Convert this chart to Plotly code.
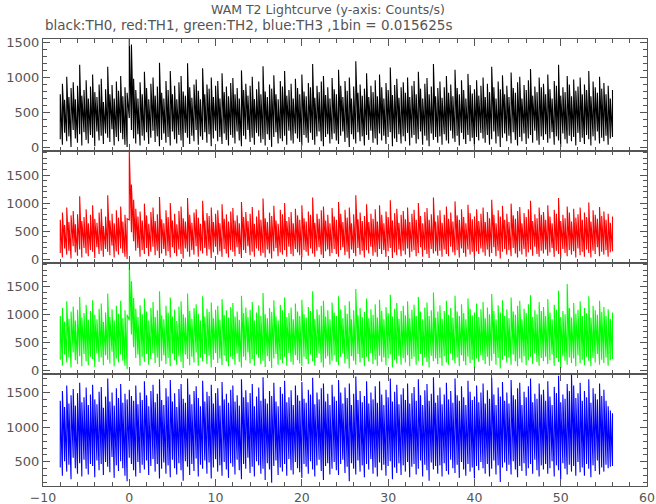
import numpy as np
import plotly.graph_objects as go
from plotly.subplots import make_subplots

# time axis: first bin start and display bin width (s); each bin holds the min and max count rate
t_start = -8.0
bin_width = 0.25

th0_hi = [760, 910, 680, 1010, 720, 850, 930, 690, 880, 1180, 740, 820, 960, 700, 870, 1040,
          790, 720, 900, 980, 650, 830, 1150, 760, 890, 700, 940, 810, 1020, 730, 860, 780,
          1560, 1470, 980, 820, 700, 930, 760, 1080, 850, 690, 910, 1000, 740, 870, 1210, 780,
          700, 950, 820, 1090, 760, 880, 690, 930, 1020, 800, 740, 1200, 860, 710, 900, 970,
          810, 690, 1130, 760, 900, 840, 1000, 720, 880, 950, 700, 1060, 790, 870, 730, 920,
          990, 760, 850, 700, 1100, 820, 910, 740, 880, 1010, 690, 830, 940, 760, 1160, 800,
          720, 900, 840, 1030, 760, 690, 950, 870, 1090, 740, 820, 910, 700, 980, 850, 760,
          1040, 800, 730, 920, 860, 1190, 710, 880, 790, 940, 1020, 750, 860, 700, 990, 830,
          760, 1110, 880, 720, 950, 810, 1000, 700, 870, 1230, 780, 900, 740, 840, 1060, 720,
          880, 790, 960, 730, 1040, 860, 700, 920, 820, 1140, 750, 890, 980, 710, 860, 930,
          780, 1000, 720, 880, 950, 760, 1080, 840, 700, 910, 990, 760, 870, 1190, 730, 850,
          940, 710, 860, 1020, 780, 900, 730, 1110, 850, 760, 960, 820, 700, 1050, 890, 770,
          830, 960, 740, 880, 1000, 720, 910, 790, 1150, 860, 700, 940, 830, 1030, 760, 880,
          720, 1070, 850, 780, 930, 1010, 700, 890, 820, 960, 1120, 740, 870, 790, 1000, 860,
          910, 760, 1040, 830, 700, 950, 880, 1180, 740, 860, 790, 1020, 900, 730, 970, 810,
          870, 1000, 760, 900, 820, 1090, 730, 940, 860, 780, 1010, 840, 920, 760, 880, 700,
          820]
th0_lo = [120, 40, 210, 90, 160, 10, 250, 130, 70, 190, 30, 220, 110, 60, 180, 140,
          20, 230, 100, 170, 50, 200, 140, 80, 260, 30, 150, 90, 210, 120, 40, 10,
          420, 250, 130, 60, 190, 30, 170, 100, 220, 50, 140, 240, 80, 160, 20, 110,
          200, 70, 150, 30, 230, 120, 60, 180, 100, 10, 210, 140, 50, 170, 90, 250,
          40, 160, 110, 220, 70, 190, 20, 130, 240, 90, 150, 50, 200, 110, 30, 180,
          140, 60, 230, 100, 20, 170, 120, 250, 80, 140, 40, 210, 160, 70, 120, 30,
          190, 110, 10, 150, 220, 60, 130, 90, 170, 40, 240, 100, 60, 200, 130, 80,
          30, 180, 140, 70, 210, 110, 40, 160, 230, 90, 20, 150, 190, 60, 120, 200,
          100, 50, 170, 230, 80, 140, 10, 190, 120, 60, 220, 90, 160, 30, 180, 110,
          240, 70, 130, 40, 200, 100, 170, 50, 150, 220, 20, 130, 80, 190, 60, 160,
          90, 210, 30, 140, 180, 60, 120, 230, 40, 170, 100, 20, 200, 110, 150, 70,
          160, 40, 190, 100, 60, 240, 130, 80, 170, 30, 210, 120, 50, 180, 90, 140,
          20, 150, 100, 210, 130, 70, 180, 40, 120, 230, 60, 160, 10, 140, 200, 90,
          170, 60, 220, 110, 30, 150, 90, 200, 50, 130, 180, 70, 240, 100, 40, 160,
          110, 190, 70, 130, 220, 40, 160, 100, 10, 200, 120, 60, 170, 90, 150, 30,
          210, 80, 140, 50, 180, 120, 30, 160, 100, 230, 60, 140, 90, 170, 40, 130,
          150]

th1_hi = [700, 830, 610, 920, 660, 780, 860, 620, 800, 1120, 680, 750, 890, 640, 790, 960,
          720, 650, 830, 900, 590, 760, 1140, 690, 810, 640, 870, 740, 940, 670, 790, 720,
          1960, 1330, 1060, 900, 760, 850, 690, 990, 780, 630, 840, 920, 680, 800, 1110, 710,
          640, 870, 750, 1000, 690, 810, 620, 860, 940, 730, 670, 1090, 790, 650, 830, 890,
          740, 630, 1040, 690, 820, 770, 920, 660, 810, 870, 640, 980, 720, 800, 670, 850,
          910, 690, 780, 640, 1020, 750, 840, 680, 810, 930, 630, 760, 870, 700, 1080, 730,
          660, 830, 770, 950, 690, 630, 880, 800, 1000, 680, 750, 840, 640, 900, 780, 700,
          960, 730, 670, 850, 790, 1100, 650, 810, 720, 870, 940, 690, 790, 640, 910, 760,
          700, 1020, 810, 660, 880, 740, 920, 640, 800, 1140, 710, 830, 680, 770, 980, 660,
          810, 720, 890, 670, 960, 790, 640, 850, 750, 1050, 690, 820, 900, 650, 790, 860,
          710, 920, 660, 810, 880, 700, 1000, 770, 640, 840, 910, 700, 800, 1100, 670, 780,
          870, 650, 790, 940, 720, 830, 670, 1030, 780, 700, 890, 750, 640, 970, 820, 710,
          760, 890, 680, 810, 920, 660, 840, 730, 1060, 790, 640, 870, 760, 950, 700, 810,
          660, 990, 780, 720, 860, 930, 640, 820, 750, 890, 1040, 680, 800, 730, 920, 790,
          840, 700, 960, 760, 640, 880, 810, 1090, 680, 790, 730, 940, 830, 670, 900, 740,
          800, 920, 700, 830, 750, 1010, 670, 870, 790, 720, 930, 770, 850, 700, 810, 650,
          760]
th1_lo = [110, 30, 190, 80, 150, 10, 230, 120, 60, 170, 30, 200, 100, 50, 160, 130,
          20, 210, 90, 150, 40, 180, 130, 70, 240, 30, 140, 80, 190, 110, 40, 0,
          700, 480, 320, 150, 200, 40, 160, 90, 200, 50, 130, 220, 70, 150, 20, 100,
          180, 60, 140, 30, 210, 110, 50, 170, 90, 10, 190, 130, 40, 160, 80, 230,
          40, 150, 100, 200, 60, 170, 20, 120, 220, 80, 140, 40, 180, 100, 30, 160,
          130, 50, 210, 90, 20, 160, 110, 230, 70, 130, 40, 190, 150, 60, 110, 30,
          170, 100, 10, 140, 200, 50, 120, 80, 160, 40, 220, 90, 50, 180, 120, 70,
          30, 160, 130, 60, 190, 100, 40, 150, 210, 80, 20, 140, 170, 50, 110, 180,
          90, 40, 160, 210, 70, 130, 10, 170, 110, 50, 200, 80, 150, 30, 160, 100,
          220, 60, 120, 40, 180, 90, 160, 40, 140, 200, 20, 120, 70, 170, 50, 150,
          80, 190, 30, 130, 160, 50, 110, 210, 40, 160, 90, 20, 180, 100, 140, 60,
          150, 40, 170, 90, 50, 220, 120, 70, 160, 30, 190, 110, 40, 170, 80, 130,
          20, 140, 90, 190, 120, 60, 170, 40, 110, 210, 50, 150, 10, 130, 180, 80,
          160, 50, 200, 100, 30, 140, 80, 180, 40, 120, 170, 60, 220, 90, 40, 150,
          100, 170, 60, 120, 200, 40, 150, 90, 10, 180, 110, 50, 160, 80, 140, 30,
          190, 70, 130, 40, 170, 110, 30, 150, 90, 210, 50, 130, 80, 160, 40, 120,
          140]

th2_hi = [980, 1120, 880, 1240, 930, 1060, 1150, 900, 1090, 1320, 950, 1030, 1180, 910, 1070, 1260,
          1000, 920, 1110, 1200, 870, 1040, 1380, 960, 1100, 900, 1160, 1020, 1250, 940, 1080, 1000,
          1930, 1600, 1300, 1110, 960, 1170, 1010, 1290, 1060, 900, 1120, 1230, 960, 1080, 1420, 990,
          920, 1160, 1040, 1310, 970, 1090, 890, 1150, 1240, 1010, 950, 1380, 1070, 930, 1120, 1190,
          1020, 900, 1330, 970, 1110, 1050, 1220, 940, 1090, 1160, 910, 1280, 1000, 1080, 950, 1140,
          1210, 970, 1060, 910, 1340, 1030, 1130, 960, 1090, 1230, 900, 1040, 1170, 980, 1390, 1010,
          940, 1120, 1050, 1260, 970, 900, 1180, 1080, 1310, 960, 1030, 1130, 920, 1200, 1060, 980,
          1270, 1010, 950, 1140, 1070, 1420, 930, 1100, 1000, 1160, 1250, 970, 1080, 920, 1220, 1040,
          980, 1330, 1100, 940, 1170, 1020, 1240, 920, 1080, 1460, 990, 1120, 960, 1050, 1290, 940,
          1100, 1000, 1190, 950, 1270, 1070, 920, 1140, 1030, 1360, 970, 1110, 1210, 930, 1070, 1160,
          990, 1240, 940, 1090, 1180, 980, 1320, 1060, 920, 1130, 1220, 980, 1080, 1400, 950, 1060,
          1170, 930, 1070, 1250, 1000, 1120, 950, 1340, 1060, 980, 1190, 1030, 920, 1290, 1110, 990,
          1040, 1200, 960, 1100, 1230, 940, 1130, 1010, 1370, 1070, 920, 1170, 1040, 1260, 980, 1100,
          940, 1310, 1060, 1000, 1160, 1250, 920, 1110, 1030, 1190, 1350, 960, 1080, 1010, 1230, 1070,
          1140, 980, 1280, 1040, 920, 1180, 1090, 1430, 960, 1070, 1010, 1550, 1120, 950, 1210, 1020,
          1090, 1240, 980, 1120, 1030, 1330, 950, 1160, 1080, 1000, 1250, 1050, 1140, 980, 1100, 930,
          1040]
th2_lo = [200, 90, 290, 150, 240, 60, 330, 190, 120, 260, 80, 300, 170, 100, 250, 210,
          70, 310, 160, 240, 100, 280, 200, 130, 340, 80, 220, 150, 290, 180, 90, 30,
          900, 650, 420, 230, 290, 90, 250, 160, 300, 110, 210, 320, 140, 240, 70, 180,
          280, 120, 230, 80, 310, 190, 110, 260, 160, 50, 290, 210, 100, 250, 150, 330,
          90, 240, 170, 300, 120, 270, 60, 200, 320, 140, 220, 100, 280, 170, 80, 250,
          210, 110, 310, 160, 60, 250, 190, 330, 130, 210, 90, 290, 230, 120, 180, 70,
          260, 170, 50, 220, 300, 110, 200, 140, 250, 90, 320, 160, 110, 280, 190, 130,
          80, 250, 210, 120, 290, 170, 90, 230, 310, 150, 60, 220, 260, 110, 180, 280,
          160, 100, 250, 310, 130, 210, 40, 260, 180, 110, 300, 150, 230, 80, 250, 170,
          320, 120, 200, 90, 270, 160, 240, 100, 220, 290, 60, 200, 130, 260, 110, 230,
          150, 280, 80, 210, 250, 110, 180, 300, 90, 240, 160, 60, 270, 170, 220, 120,
          230, 90, 260, 150, 110, 310, 190, 130, 240, 80, 280, 170, 100, 250, 140, 200,
          60, 220, 160, 280, 190, 120, 250, 90, 180, 300, 110, 230, 40, 200, 270, 150,
          240, 110, 290, 170, 80, 220, 150, 260, 100, 190, 250, 120, 310, 160, 90, 230,
          170, 250, 120, 190, 290, 90, 230, 160, 50, 260, 180, 110, 240, 140, 220, 80,
          280, 140, 200, 100, 250, 180, 80, 230, 150, 300, 110, 200, 140, 240, 90, 190,
          210]

th3_hi = [1380, 1520, 1290, 1600, 1340, 1460, 1550, 1310, 1490, 1640, 1360, 1430, 1570, 1320, 1470, 1610,
          1400, 1330, 1510, 1580, 1280, 1440, 1700, 1370, 1500, 1310, 1560, 1420, 1620, 1350, 1480, 1400,
          1540, 1450, 1380, 1600, 1330, 1500, 1390, 1660, 1460, 1300, 1520, 1610, 1360, 1480, 1690, 1390,
          1320, 1560, 1440, 1680, 1370, 1490, 1290, 1550, 1620, 1410, 1350, 1700, 1470, 1330, 1520, 1590,
          1420, 1300, 1670, 1370, 1510, 1450, 1610, 1340, 1490, 1560, 1310, 1650, 1400, 1480, 1350, 1540,
          1600, 1370, 1460, 1310, 1690, 1430, 1530, 1360, 1490, 1620, 1300, 1440, 1570, 1380, 1720, 1410,
          1340, 1520, 1450, 1640, 1370, 1300, 1580, 1480, 1670, 1360, 1430, 1530, 1320, 1600, 1460, 1380,
          1650, 1410, 1350, 1540, 1470, 1710, 1330, 1500, 1400, 1560, 1630, 1370, 1480, 1320, 1610, 1440,
          1380, 1680, 1500, 1340, 1570, 1420, 1630, 1320, 1480, 1730, 1390, 1520, 1360, 1450, 1660, 1340,
          1500, 1400, 1590, 1350, 1660, 1470, 1320, 1540, 1430, 1700, 1370, 1510, 1610, 1330, 1470, 1560,
          1390, 1630, 1340, 1490, 1580, 1380, 1690, 1460, 1320, 1530, 1620, 1380, 1480, 1720, 1350, 1460,
          1570, 1330, 1470, 1640, 1400, 1520, 1350, 1700, 1460, 1380, 1590, 1430, 1320, 1670, 1510, 1390,
          1440, 1600, 1360, 1500, 1630, 1340, 1530, 1410, 1710, 1470, 1320, 1570, 1440, 1650, 1380, 1500,
          1340, 1680, 1460, 1400, 1560, 1640, 1320, 1510, 1430, 1590, 1700, 1360, 1480, 1410, 1630, 1470,
          1540, 1380, 1660, 1440, 1320, 1580, 1490, 1740, 1360, 1470, 1410, 1620, 1520, 1760, 1600, 1420,
          1490, 1640, 1380, 1520, 1430, 1690, 1350, 1560, 1480, 1400, 1630, 1450, 1540, 1380, 1300, 1240,
          1200]
th3_lo = [420, 300, 510, 360, 460, 250, 560, 410, 330, 480, 290, 530, 400, 320, 470, 440,
          280, 520, 380, 470, 310, 500, 430, 350, 570, 270, 450, 370, 510, 410, 300, 220,
          560, 470, 380, 290, 500, 340, 460, 390, 520, 310, 440, 540, 360, 470, 260, 400,
          490, 330, 450, 280, 530, 410, 320, 480, 380, 230, 510, 430, 310, 470, 370, 550,
          290, 460, 400, 520, 330, 490, 260, 420, 540, 360, 450, 300, 500, 390, 270, 480,
          430, 320, 530, 380, 250, 470, 400, 560, 340, 430, 290, 510, 450, 330, 400, 240,
          480, 390, 200, 440, 520, 310, 420, 360, 470, 300, 540, 380, 320, 500, 410, 350,
          270, 470, 430, 330, 510, 390, 290, 450, 530, 370, 240, 440, 480, 320, 400, 500,
          380, 310, 470, 530, 340, 430, 220, 480, 400, 320, 520, 360, 450, 280, 470, 390,
          540, 330, 420, 290, 490, 380, 460, 300, 440, 510, 250, 420, 340, 480, 310, 450,
          360, 500, 280, 430, 470, 320, 400, 520, 290, 460, 380, 230, 490, 390, 440, 330,
          450, 290, 480, 370, 320, 530, 410, 340, 460, 270, 500, 390, 300, 470, 360, 420,
          260, 440, 380, 500, 410, 330, 470, 290, 400, 520, 320, 450, 210, 420, 490, 370,
          460, 320, 510, 390, 280, 440, 370, 480, 300, 410, 470, 330, 530, 380, 290, 450,
          390, 470, 330, 410, 510, 290, 450, 380, 250, 480, 400, 320, 460, 360, 440, 300,
          500, 350, 420, 300, 470, 400, 280, 450, 370, 520, 320, 420, 360, 460, 410, 430,
          440]

series_names = ["TH0", "TH1", "TH2", "TH3"]
series_lo = [th0_lo, th1_lo, th2_lo, th3_lo]
series_hi = [th0_hi, th1_hi, th2_hi, th3_hi]
series_colors = ["#000000", "#ff0000", "#00ff00", "#0000ff"]
y_ranges = [[-45, 1547], [-61, 1934], [-61, 1934], [153, 1762]]

title_text = "WAM T2 Lightcurve (y-axis: Counts/s)"
subtitle_text = "black:TH0, red:TH1, green:TH2, blue:TH3 ,1bin = 0.015625s"

FONT = "DejaVu Sans"
AX_COLOR = "#555555"
TXT_COLOR = "#555555"

fig = make_subplots(rows=4, cols=1, shared_xaxes=False, vertical_spacing=0)

for i in range(4):
    lo = np.asarray(series_lo[i], dtype=float)
    hi = np.asarray(series_hi[i], dtype=float)
    t = t_start + bin_width * np.arange(len(lo))
    # each bin drawn as a vertical stroke from its min to its max, joined bin to bin
    xs = np.repeat(t, 2)
    ys = np.column_stack([lo, hi]).ravel()
    fig.add_trace(go.Scatter(x=xs, y=ys, mode="lines", name=series_names[i],
                             line=dict(color=series_colors[i], width=1.1),
                             hoverinfo="skip"),
                  row=i + 1, col=1)
    fig.update_yaxes(range=y_ranges[i], dtick=500, tick0=0, automargin=False,
                     ticks="inside", ticklen=7, tickcolor=AX_COLOR,
                     minor=dict(ticks="inside", dtick=100, ticklen=4, tickcolor=AX_COLOR),
                     showline=True, linecolor=AX_COLOR, linewidth=1, mirror="allticks",
                     showgrid=False, zeroline=False,
                     tickfont=dict(family=FONT, size=13, color=TXT_COLOR),
                     row=i + 1, col=1)
    fig.update_xaxes(range=[-10, 60], dtick=10, tick0=0, automargin=False,
                     ticks="inside", ticklen=7, tickcolor=AX_COLOR,
                     minor=dict(ticks="inside", dtick=2, ticklen=4, tickcolor=AX_COLOR),
                     showline=True, linecolor=AX_COLOR, linewidth=1, mirror="allticks",
                     showgrid=False, zeroline=False,
                     showticklabels=(i == 3),
                     tickfont=dict(family=FONT, size=12.5, color=TXT_COLOR),
                     row=i + 1, col=1)

L, R, T, B = 43, 9, 39, 18
plot_w = 656 - L - R
plot_h = 504 - T - B
fig.update_layout(
    width=656, height=504,
    margin=dict(l=L, r=R, t=T, b=B, autoexpand=False),
    paper_bgcolor="white", plot_bgcolor="white",
    showlegend=False,
    annotations=[
        dict(text=title_text, xref="paper", yref="paper",
             x=(328 - L) / plot_w, y=1 + (T - 9) / plot_h, xanchor="center", yanchor="middle",
             showarrow=False, font=dict(family=FONT, size=12.5, color=TXT_COLOR)),
        dict(text=subtitle_text, xref="paper", yref="paper",
             x=0, y=1 + (T - 25) / plot_h, xanchor="left", yanchor="middle",
             showarrow=False, font=dict(family=FONT, size=13.5, color=TXT_COLOR)),
    ],
)

fig.write_html("out.html", config={"displayModeBar": False, "staticPlot": True},
               post_script="document.body.style.margin='0px';document.body.style.overflow='hidden';")
